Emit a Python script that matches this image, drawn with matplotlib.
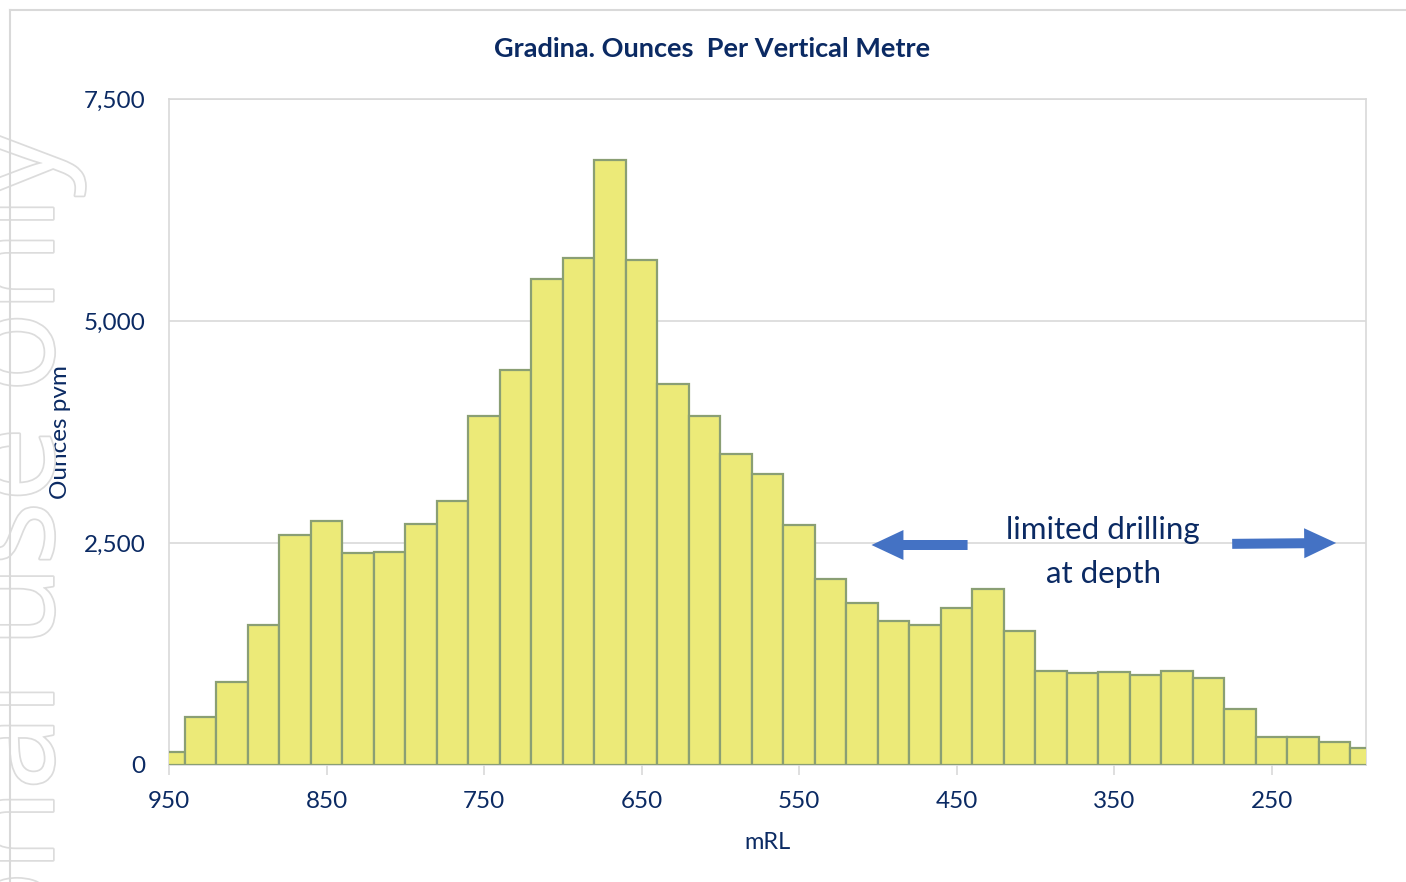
import matplotlib.pyplot as plt
import matplotlib.patheffects as pe
from matplotlib.lines import Line2D

plt.rcParams['font.family'] = ['Lato', 'DejaVu Sans']

# bar centres in mRL (20 m bins) and ounces per vertical metre
mrl = [950, 930, 910, 890, 870, 850, 830, 810, 790, 770,
       750, 730, 710, 690, 670, 650, 630, 610, 590, 570,
       550, 530, 510, 490, 470, 450, 430, 410, 390, 370,
       350, 330, 310, 290, 270, 250, 230, 210, 190]
ounces = [146, 540, 935, 1577, 2590, 2748, 2387, 2398, 2714, 2973,
          3930, 4448, 5473, 5709, 6813, 5686, 4290, 3930, 3502, 3277,
          2702, 2094, 1824, 1621, 1577, 1768, 1982, 1509, 1058, 1036,
          1047, 1013, 1058, 980, 630, 315, 315, 259, 191]

xticks = [950, 850, 750, 650, 550, 450, 350, 250]
yticks = [0, 2500, 5000, 7500]

navy = '#0B2A63'
grey = '#D9D9D9'

fig = plt.figure(figsize=(14.06, 8.82), dpi=100)
ax = fig.add_axes([0.1202, 0.1327, 0.8514, 0.7551])

# faint watermark on the left edge
fig.text(53 / 1406, 1 - 130 / 882, 'For personal use only', rotation=90,
         rotation_mode='anchor', ha='right', va='baseline', fontsize=96,
         family='Open Sans', color='white', zorder=0,
         path_effects=[pe.withStroke(linewidth=2.5, foreground='#DCDCDC')])

# outer chart frame
fig.add_artist(Line2D([10 / 1406, 1.0], [1 - 10 / 882] * 2, color=grey, lw=1.5))
fig.add_artist(Line2D([10 / 1406] * 2, [0, 1 - 10 / 882], color=grey, lw=1.5))

ax.bar(mrl, ounces, width=20, color='#ECEA78', edgecolor='#8A9F74',
       linewidth=1.6, zorder=3)

ax.set_xlim(950, 190)
ax.set_ylim(0, 7500)
ax.set_xticks(xticks)
ax.set_xticklabels([str(v) for v in xticks])
ax.set_yticks(yticks)
ax.set_yticklabels([f'{v:,}' for v in yticks])
ax.grid(axis='y', color=grey, lw=1.2, zorder=0)
for s in ax.spines.values():
    s.set_color(grey)
    s.set_linewidth(1.2)
ax.tick_params(axis='y', length=0, pad=17, labelsize=17.5, labelcolor=navy)
ax.tick_params(axis='x', length=7, color=grey, width=1.2, pad=12,
               labelsize=17.5, labelcolor=navy)

ax.set_xlabel('mRL', fontsize=17, color=navy, labelpad=14)
ax.set_ylabel('Ounces pvm', fontsize=17.5, color=navy)
ax.yaxis.set_label_coords(-0.0815, 0.5)
# title is centred on the whole chart, not the plot area
fig.text(712 / 1406, 1 - 49 / 882, 'Gradina. Ounces  Per Vertical Metre',
         ha='center', va='center', fontsize=19.5, fontweight='bold', color=navy)

# annotation with arrows
ax.text(357, 2650, 'limited drilling', ha='center', va='center',
        fontsize=22.5, color=navy, zorder=5)
ax.text(357, 2150, 'at depth', ha='center', va='center',
        fontsize=22.5, color=navy, zorder=5)
arrow = dict(arrowstyle='simple,head_length=1.15,head_width=1.08,tail_width=0.36',
             color='#4472C4', lw=0, shrinkA=0, shrinkB=0, mutation_scale=20)
ax.annotate('', xy=(504, 2477), xytext=(443, 2477), arrowprops=arrow, zorder=5)
ax.annotate('', xy=(209, 2500), xytext=(275, 2490), arrowprops=arrow, zorder=5)

fig.savefig('out.png', dpi=100)
